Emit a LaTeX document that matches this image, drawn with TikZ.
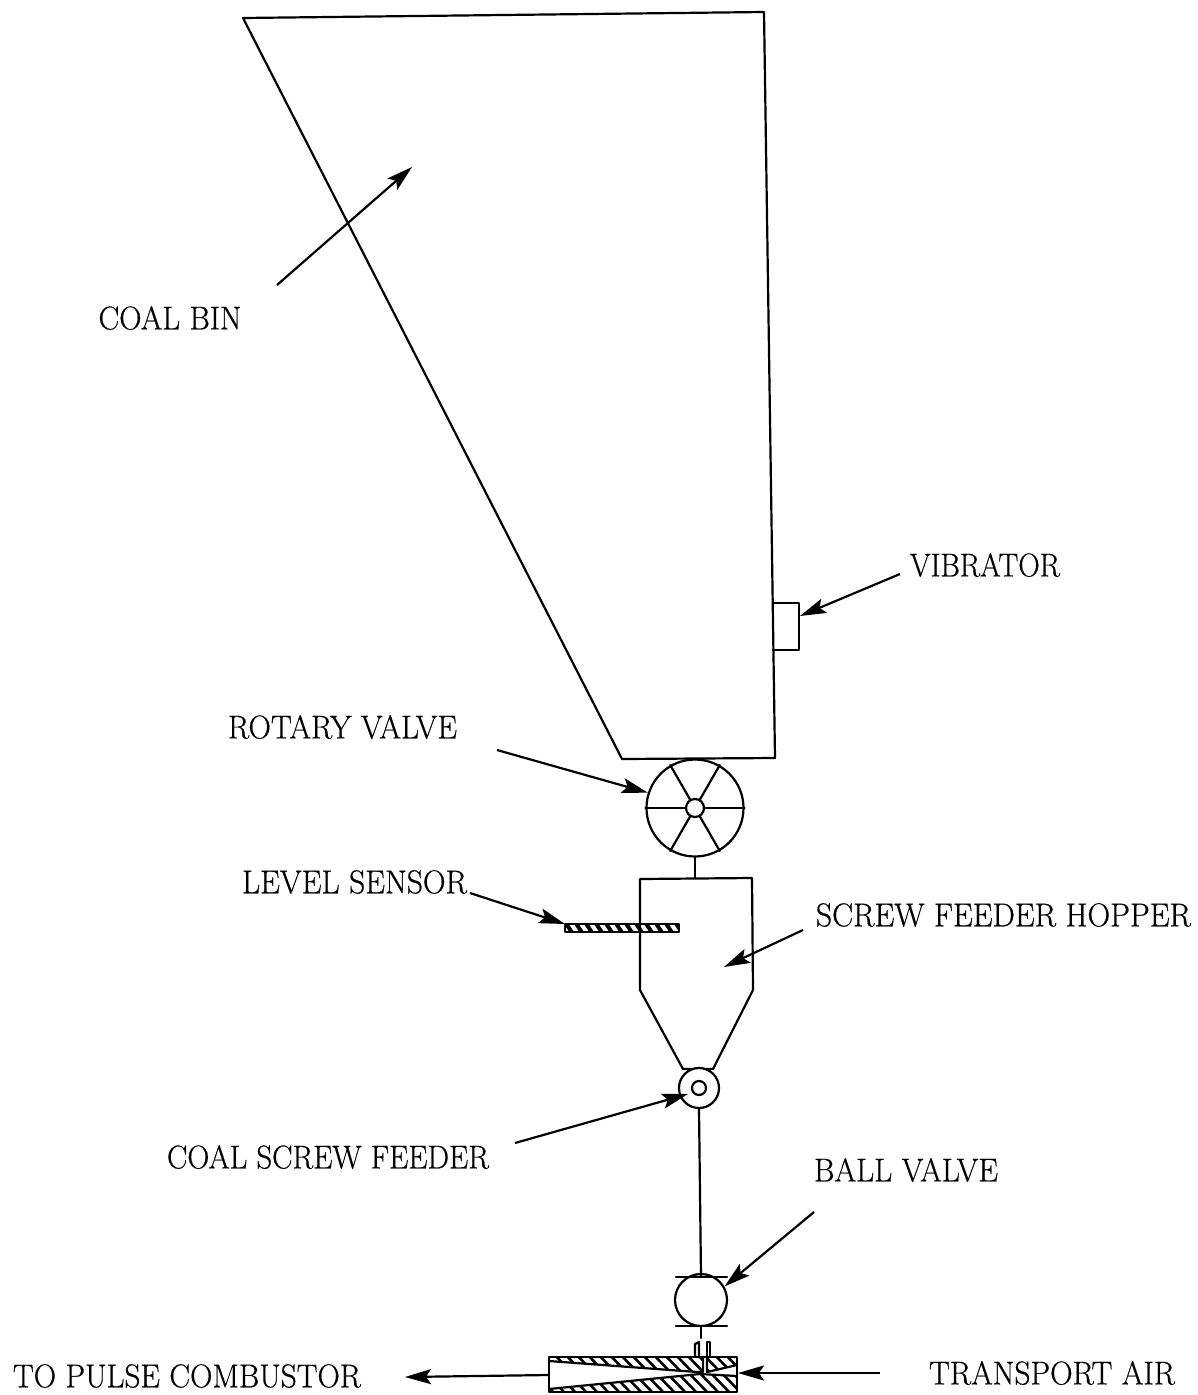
\documentclass[tikz,border=0pt]{standalone}
\usepackage{graphicx}
\usepackage{fontspec}
\newfontfamily\labfont[FakeBold=0.6]{Latin Modern Roman}
\usetikzlibrary{arrows.meta}
\newcommand{\lab}[2]{\resizebox{#1pt}{\height}{\labfont\fontsize{33}{36}\selectfont #2}}
\tikzset{
  line/.style={line width=2.2pt,line join=round,line cap=round},
  lead/.style={line width=2.2pt,-{Stealth[length=26pt,width=15pt,inset=5pt]}},
  txt/.style={inner sep=0pt,anchor=center},
  hole/.style={circle,draw,line width=2.2pt,inner sep=0pt,fill=white},
  hatchline/.style={line width=2.6pt}
}
\begin{document}
\begin{tikzpicture}[x=1pt,y=-1pt]
\useasboundingbox (0,0) rectangle (1198,1395);
% coal bin
\coordinate (b1) at (243,18);
\coordinate (b2) at (764,12);
\coordinate (b3) at (775,758);
\coordinate (b4) at (622,759);
\draw[line] (b1) -- (b2) -- (b3) -- (b4) -- cycle;
% vibrator
\coordinate (v1) at (773,603);
\coordinate (v2) at (799,603);
\coordinate (v3) at (799,650);
\coordinate (v4) at (773,650);
\draw[line] (v1) -- (v2) -- (v3) -- (v4);
% rotary valve
\node[hole,minimum size=97pt] (rv) at (695,808) {};
\node[hole,minimum size=18pt] (hub) at (695,808) {};
\foreach \a in {0,60,120,180,240,300}{\draw[line] (hub.\a) -- (rv.\a);}
% hopper
\coordinate (h1) at (640,879);
\coordinate (ht) at (695,878);
\coordinate (h2) at (752,878);
\coordinate (h3) at (753,990);
\coordinate (h4) at (713,1069);
\coordinate (h5) at (683,1069);
\coordinate (h6) at (640,990);
\draw[line] (h1) -- (h2) -- (h3) -- (h4) -- (h5) -- (h6) -- cycle;
\draw[line] (rv.south) -- (ht);
% level sensor
\coordinate (s1) at (565,924);
\coordinate (s2) at (679,924);
\coordinate (s3) at (679,932);
\coordinate (s4) at (565,932);
\begin{scope}
\clip (s1) -- (s2) -- (s3) -- (s4) -- cycle;
\foreach \x in {555,565,...,690}{\draw[line width=4pt] (\x,922) -- (\x+8,934);}
\end{scope}
\draw[line] (s1) -- (s2) -- (s3) -- (s4) -- cycle;
% screw feeder
\node[hole,minimum size=40pt] (sf) at (699,1088) {};
\node[hole,minimum size=14pt] (sfi) at (699,1088) {};
% ball valve
\node[hole,minimum size=52pt] (bv) at (701,1300) {};
\coordinate (bt1) at (676,1277);
\coordinate (bt2) at (727,1277);
\coordinate (bb1) at (676,1326);
\coordinate (bb2) at (727,1326);
\draw[line] (bt1) -- (bt2);
\draw[line] (bb1) -- (bb2);
\coordinate (bvt) at (701,1277);
\coordinate (bvb) at (701,1326);
\coordinate (stub) at (701,1338);
\draw[line] (sf.south) -- (bvt);
\draw[line] (bvb) -- (stub);
% mixing tube
\coordinate (m1) at (549,1357);
\coordinate (m2) at (737,1357);
\coordinate (m3) at (737,1392);
\coordinate (m4) at (549,1392);
\begin{scope}
\clip (549,1357) -- (703,1357) -- (703,1372) -- (697,1372) -- (549,1361) -- cycle;
\foreach \x in {530,541,...,720}{\draw[hatchline] (\x,1352) -- (\x+25,1378);}
\end{scope}
\begin{scope}
\clip (707,1357) -- (737,1357) -- (737,1365) -- (707,1372) -- cycle;
\foreach \x in {690,701,...,740}{\draw[hatchline] (\x,1352) -- (\x+25,1378);}
\end{scope}
\begin{scope}
\clip (549,1389) -- (700,1374) -- (737,1376) -- (737,1392) -- (549,1392) -- cycle;
\foreach \x in {530,541,...,740}{\draw[hatchline] (\x,1368) -- (\x+25,1394);}
\end{scope}
\draw[line] (m1) -- (m2) -- (m3) -- (m4) -- cycle;
\draw[line] (549,1361) -- (697,1372) -- (703,1372) -- (703,1357);
\draw[line] (707,1357) -- (707,1372) -- (737,1365);
\draw[line] (549,1389) -- (700,1374) -- (737,1376);
\draw[line] (695,1357) -- (695,1344) -- (699,1342) -- (699,1357);
\draw[line] (707,1357) -- (707,1342) -- (710,1342) -- (710,1357);
% labels
\node[txt] (lbin) at (170,318) {\lab{143}{COAL BIN}};
\node[txt] (lvib) at (985,565) {\lab{150}{VIBRATOR}};
\node[txt] (lrot) at (342.5,727) {\lab{229}{ROTARY VALVE}};
\node[txt] (llev) at (354.5,882) {\lab{225}{LEVEL SENSOR}};
\node[txt] (lhop) at (1003.5,915) {\lab{375}{SCREW FEEDER HOPPER}};
\node[txt] (lscr) at (328,1157) {\lab{322}{COAL SCREW FEEDER}};
\node[txt] (lbal) at (906,1170) {\lab{184}{BALL VALVE}};
\node[txt] (lpul) at (187,1376) {\lab{348}{TO PULSE COMBUSTOR}};
\node[txt] (lair) at (1052,1373) {\lab{246}{TRANSPORT AIR}};
% leaders
\coordinate (a1) at (277,285); \coordinate (a1e) at (412,167);
\coordinate (a2) at (900,574); \coordinate (a2e) at (800,616);
\coordinate (a3) at (497,750);
\coordinate (a4) at (470,893);
\coordinate (a5) at (803,930); \coordinate (a5e) at (724,967);
\coordinate (a6) at (515,1143); \coordinate (a6e) at (688,1094);
\coordinate (a7) at (814,1212);
\coordinate (a8) at (549,1375); \coordinate (a8e) at (405,1377);
\coordinate (a9) at (880,1373); \coordinate (a9e) at (738,1373);
\draw[lead] (a1) -- (a1e);
\draw[lead] (a2) -- (a2e);
\draw[lead] (a3) -- (rv.162);
\draw[lead] (a4) -- (s1);
\draw[lead] (a5) -- (a5e);
\draw[lead] (a6) -- (a6e);
\draw[lead] (a7) -- (bv.30);
\draw[lead] (a8) -- (a8e);
\draw[lead] (a9) -- (a9e);
\end{tikzpicture}
\end{document}
